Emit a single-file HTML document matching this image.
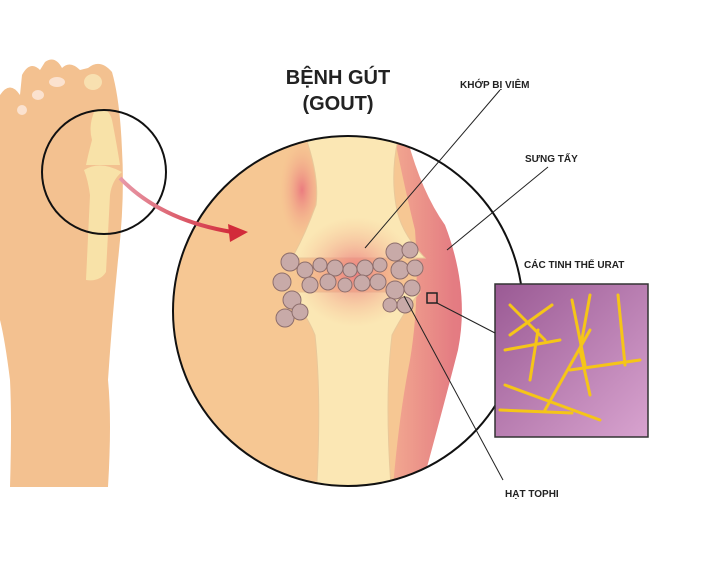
<!DOCTYPE html>
<html><head><meta charset="utf-8"><style>
html,body{margin:0;padding:0;background:#fff;}
svg{display:block}
text{font-family:"Liberation Sans","Noto Sans CJK SC",sans-serif;font-weight:bold;fill:#222}
</style></head><body>
<svg width="706" height="565" viewBox="0 0 706 565" xmlns="http://www.w3.org/2000/svg">
<defs>
<clipPath id="bc"><circle cx="348" cy="311" r="175"/></clipPath>
<radialGradient id="red1" cx="0.5" cy="0.5" r="0.5"><stop offset="0" stop-color="#e8697a" stop-opacity="0.8"/><stop offset="1" stop-color="#f4b08a" stop-opacity="0"/></radialGradient>
<linearGradient id="pur" x1="0" y1="0" x2="1" y2="1"><stop offset="0" stop-color="#9a5a94"/><stop offset="1" stop-color="#d8a3cf"/></linearGradient>
<linearGradient id="arr" x1="0" y1="0" x2="1" y2="0"><stop offset="0" stop-color="#e89aa8"/><stop offset="1" stop-color="#d22b3a"/></linearGradient>
<linearGradient id="sw" x1="0" y1="0" x2="1" y2="0"><stop offset="0" stop-color="#f2a890"/><stop offset="0.45" stop-color="#e47c82"/><stop offset="1" stop-color="#dc6a78"/></linearGradient>
</defs>
<!-- foot -->
<path d="M0,95 Q10,80 20,95 L22,75 Q30,60 40,70 L45,62 Q55,55 62,68 Q70,60 80,70 L88,68 Q100,58 112,72 Q120,100 122,150 Q125,200 118,260 Q112,320 108,380 Q112,420 108,487 L10,487 Q12,420 10,380 Q5,340 0,320 Z" fill="#f3c190"/>
<ellipse cx="57" cy="82" rx="8" ry="5" fill="#fbe2cf"/>
<ellipse cx="38" cy="95" rx="6" ry="5" fill="#fbe2cf"/>
<ellipse cx="22" cy="110" rx="5" ry="5" fill="#fbe2cf"/>
<ellipse cx="93" cy="82" rx="9" ry="8" fill="#f8e0b0"/>
<path d="M95,110 Q88,125 92,140 Q88,155 86,165 L120,165 Q116,140 112,120 Q108,105 95,110 Z" fill="#f8e2a8"/>
<path d="M84,170 Q100,160 122,172 Q112,180 110,195 L106,272 Q100,282 86,280 L90,195 Q88,180 84,170 Z" fill="#f8e2a8"/>
<circle cx="104" cy="172" r="62" fill="none" stroke="#111" stroke-width="2"/>
<!-- big circle -->
<g clip-path="url(#bc)">
<rect x="170" y="130" width="360" height="370" fill="#f6c793"/>
<path d="M393,130 Q405,190 415,230 Q420,300 410,360 Q398,420 392,500 L530,500 L530,130 Z" fill="url(#sw)"/>
<path d="M405,130 Q420,190 445,225 Q470,290 458,350 Q440,420 418,500 L530,500 L530,130 Z" fill="#fff"/>
<ellipse cx="302" cy="190" rx="22" ry="50" fill="url(#red1)"/>
<!-- upper bone -->
<path d="M303,130 Q320,175 316,205 Q305,235 292,258 L425,258 Q400,232 396,205 Q390,170 400,130 Z" fill="#fbe7b4" stroke="#e9c89a"/>
<!-- lower bone -->
<path d="M285,292 Q305,310 315,335 Q322,400 316,500 L392,500 Q384,400 392,335 Q405,310 420,292 Z" fill="#fbe7b4" stroke="#e9c89a"/>
<ellipse cx="355" cy="272" rx="60" ry="55" fill="url(#red1)"/>
<!-- tophi -->
<g fill="#c8aaa8" stroke="#8d6e6c" stroke-width="1">
<circle cx="290" cy="262" r="9"/><circle cx="282" cy="282" r="9"/><circle cx="292" cy="300" r="9"/><circle cx="285" cy="318" r="9"/><circle cx="300" cy="312" r="8"/>
<circle cx="305" cy="270" r="8"/><circle cx="320" cy="265" r="7"/><circle cx="335" cy="268" r="8"/><circle cx="350" cy="270" r="7"/><circle cx="365" cy="268" r="8"/><circle cx="380" cy="265" r="7"/>
<circle cx="310" cy="285" r="8"/><circle cx="328" cy="282" r="8"/><circle cx="345" cy="285" r="7"/><circle cx="362" cy="283" r="8"/><circle cx="378" cy="282" r="8"/>
<circle cx="395" cy="252" r="9"/><circle cx="410" cy="250" r="8"/><circle cx="400" cy="270" r="9"/><circle cx="415" cy="268" r="8"/><circle cx="395" cy="290" r="9"/><circle cx="412" cy="288" r="8"/><circle cx="405" cy="305" r="8"/><circle cx="390" cy="305" r="7"/>
</g>
</g>
<circle cx="348" cy="311" r="175" fill="none" stroke="#111" stroke-width="2"/>
<!-- arrow -->
<path d="M120,178 Q160,220 232,232" fill="none" stroke="url(#arr)" stroke-width="4"/>
<path d="M228,224 L248,232 L230,242 Z" fill="#d22b3a"/>
<!-- crystals box -->
<rect x="495" y="284" width="153" height="153" fill="url(#pur)" stroke="#333" stroke-width="1.5"/>
<g stroke="#f5c518" stroke-width="3" stroke-linecap="round">
<line x1="510" y1="305" x2="545" y2="340"/><line x1="510" y1="335" x2="552" y2="305"/><line x1="538" y1="330" x2="530" y2="380"/>
<line x1="505" y1="350" x2="560" y2="340"/><line x1="572" y1="300" x2="585" y2="365"/><line x1="590" y1="295" x2="580" y2="350"/>
<line x1="618" y1="295" x2="625" y2="365"/><line x1="590" y1="330" x2="545" y2="410"/><line x1="505" y1="385" x2="600" y2="420"/>
<line x1="500" y1="410" x2="572" y2="413"/><line x1="570" y1="370" x2="640" y2="360"/><line x1="580" y1="350" x2="590" y2="395"/>
</g>
<!-- callouts -->
<g stroke="#222" stroke-width="1" fill="none">
<line x1="500" y1="90" x2="365" y2="248"/>
<line x1="548" y1="167" x2="447" y2="250"/>
<rect x="427" y="293" width="10" height="10" stroke-width="1.5"/>
<line x1="437" y1="303" x2="495" y2="333"/>
<line x1="404" y1="296" x2="503" y2="480"/>
</g>
<text x="338" y="84" font-size="20" text-anchor="middle">BỆNH GÚT</text>
<text x="338" y="110" font-size="20" text-anchor="middle">(GOUT)</text>
<text x="460" y="88" font-size="10">KHỚP BỊ VIÊM</text>
<text x="525" y="162" font-size="10">SƯNG TẤY</text>
<text x="524" y="268" font-size="10">CÁC TINH THỂ URAT</text>
<text x="505" y="497" font-size="10">HẠT TOPHI</text>
</svg>
</body></html>
